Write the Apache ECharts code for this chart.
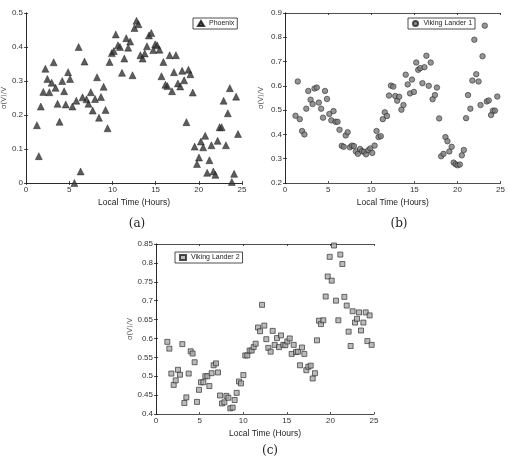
<!DOCTYPE html>
<html>
<head>
<meta charset="utf-8">
<script src="https://cdn.jsdelivr.net/npm/echarts@6/dist/echarts.min.js"></script>
<style>
  html, body { margin: 0; padding: 0; background: #fff; }
</style>
</head>
<body>
<div id="wind-chart" style="width: 508px; height: 460px;"></div>
<script>
// (a) Phoenix
const phoenixHours = [1.26, 1.48, 1.71, 2.0, 2.24, 2.47, 2.7, 2.97, 3.2, 3.42, 3.65, 3.88, 4.19, 4.41, 4.6, 4.87, 5.1, 5.37, 5.6, 5.82,
  6.09, 6.32, 6.54, 6.77, 7.0, 7.23, 7.5, 7.72, 7.99, 8.22, 8.45, 8.68, 8.98, 9.21, 9.44, 9.67, 9.93, 10.16, 10.39, 10.65,
  10.88, 11.11, 11.38, 11.6, 11.83, 12.06, 12.33, 12.56, 12.79, 13.01, 13.24, 13.5, 13.74, 14.0, 14.23, 14.5, 14.73, 14.95, 15.18, 15.45,
  15.68, 15.9, 16.13, 16.36, 16.63, 16.9, 17.12, 17.35, 17.58, 17.85, 18.07, 18.3, 18.57, 18.8, 19.03, 19.3, 19.52, 19.79, 20.02, 20.24,
  20.51, 20.74, 20.97, 21.23, 21.46, 21.69, 21.92, 22.18, 22.41, 22.64, 22.87, 23.14, 23.36, 23.59, 23.82, 24.09, 24.32, 24.54];
const phoenixSigma = [0.17, 0.079, 0.225, 0.268, 0.336, 0.306, 0.267, 0.295, 0.355, 0.28, 0.233, 0.18, 0.30, 0.27, 0.231, 0.326, 0.306, 0.225, 0.0, 0.242,
  0.40, 0.034, 0.252, 0.357, 0.246, 0.233, 0.267, 0.213, 0.247, 0.311, 0.192, 0.253, 0.283, 0.215, 0.161, 0.356, 0.382, 0.388, 0.437, 0.405,
  0.40, 0.324, 0.366, 0.426, 0.398, 0.416, 0.317, 0.456, 0.477, 0.467, 0.376, 0.366, 0.381, 0.402, 0.434, 0.441, 0.391, 0.408, 0.405, 0.392,
  0.314, 0.356, 0.289, 0.285, 0.376, 0.27, 0.326, 0.376, 0.293, 0.284, 0.33, 0.302, 0.179, 0.333, 0.32, 0.266, 0.107, 0.056, 0.075, 0.122,
  0.105, 0.139, 0.03, 0.067, 0.111, 0.034, 0.024, 0.124, 0.164, 0.164, 0.242, 0.111, 0.205, 0.279, 0.003, 0.027, 0.254, 0.144];

// (b) Viking Lander 1
const vl1Hours = [1.22, 1.48, 1.71, 1.98, 2.25, 2.47, 2.7, 2.97, 3.2, 3.42, 3.69, 3.92, 4.19, 4.41, 4.64, 4.87, 5.14, 5.37, 5.63, 5.86,
  6.09, 6.32, 6.58, 6.81, 7.04, 7.27, 7.53, 7.76, 7.99, 8.22, 8.45, 8.71, 8.94, 9.17, 9.4, 9.66, 9.89, 10.12, 10.39, 10.62,
  10.85, 11.11, 11.34, 11.57, 11.83, 12.06, 12.29, 12.56, 12.79, 13.01, 13.24, 13.5, 13.74, 14.0, 14.23, 14.5, 14.73, 14.95, 15.22, 15.45,
  15.68, 15.94, 16.17, 16.4, 16.67, 16.9, 17.12, 17.39, 17.62, 17.88, 18.11, 18.38, 18.61, 18.84, 19.06, 19.33, 19.56, 19.79, 20.02, 20.28,
  20.51, 20.74, 21.0, 21.23, 21.5, 21.73, 21.96, 22.18, 22.45, 22.68, 22.91, 23.17, 23.4, 23.63, 23.9, 24.12, 24.35, 24.62];
const vl1Sigma = [0.477, 0.618, 0.463, 0.414, 0.40, 0.506, 0.579, 0.543, 0.525, 0.589, 0.593, 0.531, 0.506, 0.469, 0.579, 0.546, 0.484, 0.458, 0.496, 0.452,
  0.452, 0.419, 0.353, 0.349, 0.396, 0.409, 0.347, 0.354, 0.352, 0.33, 0.32, 0.34, 0.331, 0.328, 0.318, 0.335, 0.342, 0.324, 0.354, 0.414,
  0.389, 0.393, 0.463, 0.491, 0.476, 0.56, 0.601, 0.597, 0.558, 0.539, 0.555, 0.502, 0.521, 0.646, 0.606, 0.569, 0.626, 0.575, 0.696, 0.666,
  0.673, 0.611, 0.677, 0.724, 0.60, 0.696, 0.545, 0.562, 0.593, 0.466, 0.31, 0.32, 0.389, 0.372, 0.33, 0.349, 0.284, 0.277, 0.273, 0.276,
  0.314, 0.336, 0.467, 0.562, 0.506, 0.622, 0.79, 0.648, 0.618, 0.521, 0.722, 0.848, 0.536, 0.54, 0.48, 0.498, 0.498, 0.556];

// (c) Viking Lander 2
const vl2Hours = [1.3, 1.53, 1.76, 2.03, 2.26, 2.52, 2.75, 3.02, 3.25, 3.48, 3.75, 3.98, 4.2, 4.43, 4.7, 4.93, 5.16, 5.43, 5.66, 5.89,
  6.12, 6.38, 6.61, 6.88, 7.11, 7.34, 7.57, 7.84, 8.07, 8.3, 8.52, 8.79, 9.02, 9.25, 9.52, 9.75, 10.02, 10.24, 10.47, 10.74,
  10.97, 11.2, 11.43, 11.7, 11.93, 12.16, 12.42, 12.65, 12.88, 13.15, 13.38, 13.61, 13.88, 14.11, 14.33, 14.6, 14.83, 15.06, 15.33, 15.56,
  15.79, 16.06, 16.28, 16.51, 16.74, 17.01, 17.24, 17.47, 17.74, 17.97, 18.23, 18.46, 18.69, 18.92, 19.19, 19.46, 19.69, 19.92, 20.15, 20.41,
  20.64, 20.91, 21.14, 21.37, 21.6, 21.87, 22.09, 22.32, 22.55, 22.82, 23.05, 23.28, 23.51, 23.78, 24.05, 24.24, 24.5, 24.73];
const vl2Sigma = [0.591, 0.573, 0.507, 0.477, 0.489, 0.517, 0.504, 0.585, 0.429, 0.444, 0.507, 0.566, 0.56, 0.537, 0.432, 0.464, 0.484, 0.484, 0.50, 0.50,
  0.474, 0.508, 0.529, 0.534, 0.51, 0.449, 0.428, 0.431, 0.448, 0.443, 0.415, 0.417, 0.437, 0.456, 0.486, 0.481, 0.503, 0.555, 0.555, 0.568,
  0.568, 0.577, 0.586, 0.629, 0.619, 0.689, 0.634, 0.598, 0.575, 0.565, 0.62, 0.583, 0.601, 0.577, 0.608, 0.583, 0.582, 0.592, 0.60, 0.559,
  0.583, 0.564, 0.565, 0.529, 0.576, 0.559, 0.516, 0.525, 0.528, 0.494, 0.508, 0.595, 0.647, 0.638, 0.648, 0.711, 0.764, 0.816, 0.753, 0.846,
  0.70, 0.648, 0.822, 0.797, 0.71, 0.687, 0.618, 0.58, 0.672, 0.642, 0.652, 0.669, 0.621, 0.642, 0.669, 0.593, 0.661, 0.583];

const xName = 'Local Time (Hours)';
const yName = 'σ(V)/V';

const pairs = (xs, ys) => xs.map((x, i) => [x, ys[i]]);

const chart = echarts.init(document.getElementById('wind-chart'));

const grids = [
  {left: 23, top: 13, width: 219, height: 170},
  {left: 285, top: 13, width: 219, height: 170},
  {left: 156, top: 244, width: 218, height: 170}
];

const yRanges = [
  {min: 0, max: 0.5, interval: 0.1},
  {min: 0.2, max: 0.9, interval: 0.1},
  {min: 0.4, max: 0.85, interval: 0.05}
];

const labelStyle = {color: '#333', fontSize: 8, fontFamily: 'Liberation Sans'};
const lineStyle = {color: '#222', width: 0.8};

let xAxis = [];
let yAxis = [];
grids.forEach((g, i) => {
  xAxis.push({
    gridIndex: i, type: 'value', min: 0, max: 25, interval: 5,
    name: xName, nameLocation: 'middle', nameGap: 15,
    nameTextStyle: {color: '#222', fontSize: 8.5, fontFamily: 'Liberation Sans'},
    axisLine: {lineStyle: lineStyle},
    axisTick: {inside: true, length: 2, lineStyle: lineStyle},
    axisLabel: Object.assign({margin: 3}, labelStyle),
    splitLine: {show: false}
  });
  xAxis.push({
    gridIndex: i, type: 'value', min: 0, max: 25, interval: 5, position: 'top',
    axisLine: {lineStyle: lineStyle},
    axisTick: {inside: true, length: 2, lineStyle: lineStyle},
    axisLabel: {show: false},
    splitLine: {show: false}
  });
  yAxis.push({
    gridIndex: i, type: 'value', min: yRanges[i].min, max: yRanges[i].max, interval: yRanges[i].interval,
    name: yName, nameLocation: 'middle', nameGap: i === 0 ? 14 : 20, nameRotate: 90,
    nameTextStyle: {color: '#555', fontSize: 7, fontFamily: 'DejaVu Sans'},
    axisLine: {lineStyle: lineStyle},
    axisTick: {inside: true, length: 2, lineStyle: lineStyle},
    axisLabel: Object.assign({margin: 3}, labelStyle),
    splitLine: {show: false}
  });
  yAxis.push({
    gridIndex: i, type: 'value', min: yRanges[i].min, max: yRanges[i].max, interval: yRanges[i].interval, position: 'right',
    axisLine: {lineStyle: lineStyle},
    axisTick: {inside: true, length: 2, lineStyle: lineStyle},
    axisLabel: {show: false},
    splitLine: {show: false}
  });
});

const legendBase = {
  itemWidth: 6, itemHeight: 5, itemGap: 2, padding: [2, 3, 2, 4],
  borderColor: '#222', borderWidth: 0.8, borderRadius: 0,
  textStyle: {fontSize: 7, color: '#222', fontFamily: 'Liberation Sans'}
};

const option = {
  animation: false,
  backgroundColor: '#fff',
  title: [
    {text: '(a)', left: 132, top: 213, textAlign: 'center', textStyle: {fontSize: 12, fontWeight: 'normal', color: '#222', fontFamily: 'DejaVu Serif'}},
    {text: '(b)', left: 394, top: 213, textAlign: 'center', textStyle: {fontSize: 12, fontWeight: 'normal', color: '#222', fontFamily: 'DejaVu Serif'}},
    {text: '(c)', left: 265, top: 440, textAlign: 'center', textStyle: {fontSize: 12, fontWeight: 'normal', color: '#222', fontFamily: 'DejaVu Serif'}}
  ],
  legend: [
    Object.assign({data: ['Phoenix'], left: 193, top: 18}, legendBase),
    Object.assign({data: ['Viking Lander 1'], left: 408, top: 18}, legendBase),
    Object.assign({data: ['Viking Lander 2'], left: 175, top: 252}, legendBase)
  ],
  grid: grids,
  xAxis: xAxis,
  yAxis: yAxis,
  series: [
    {
      name: 'Phoenix', type: 'scatter', xAxisIndex: 0, yAxisIndex: 0,
      symbol: 'triangle', symbolSize: 7,
      itemStyle: {color: '#333', borderColor: '#111', borderWidth: 0.5},
      data: pairs(phoenixHours, phoenixSigma)
    },
    {
      name: 'Viking Lander 1', type: 'scatter', xAxisIndex: 2, yAxisIndex: 2,
      symbol: 'circle', symbolSize: 5.5,
      itemStyle: {color: '#7a7a7a', borderColor: '#222', borderWidth: 0.7},
      data: pairs(vl1Hours, vl1Sigma)
    },
    {
      name: 'Viking Lander 2', type: 'scatter', xAxisIndex: 4, yAxisIndex: 4,
      symbol: 'rect', symbolSize: 5,
      itemStyle: {color: '#aaa', borderColor: '#222', borderWidth: 0.8},
      data: pairs(vl2Hours, vl2Sigma)
    }
  ]
};

option && chart.setOption(option);
</script>
</body>
</html>
